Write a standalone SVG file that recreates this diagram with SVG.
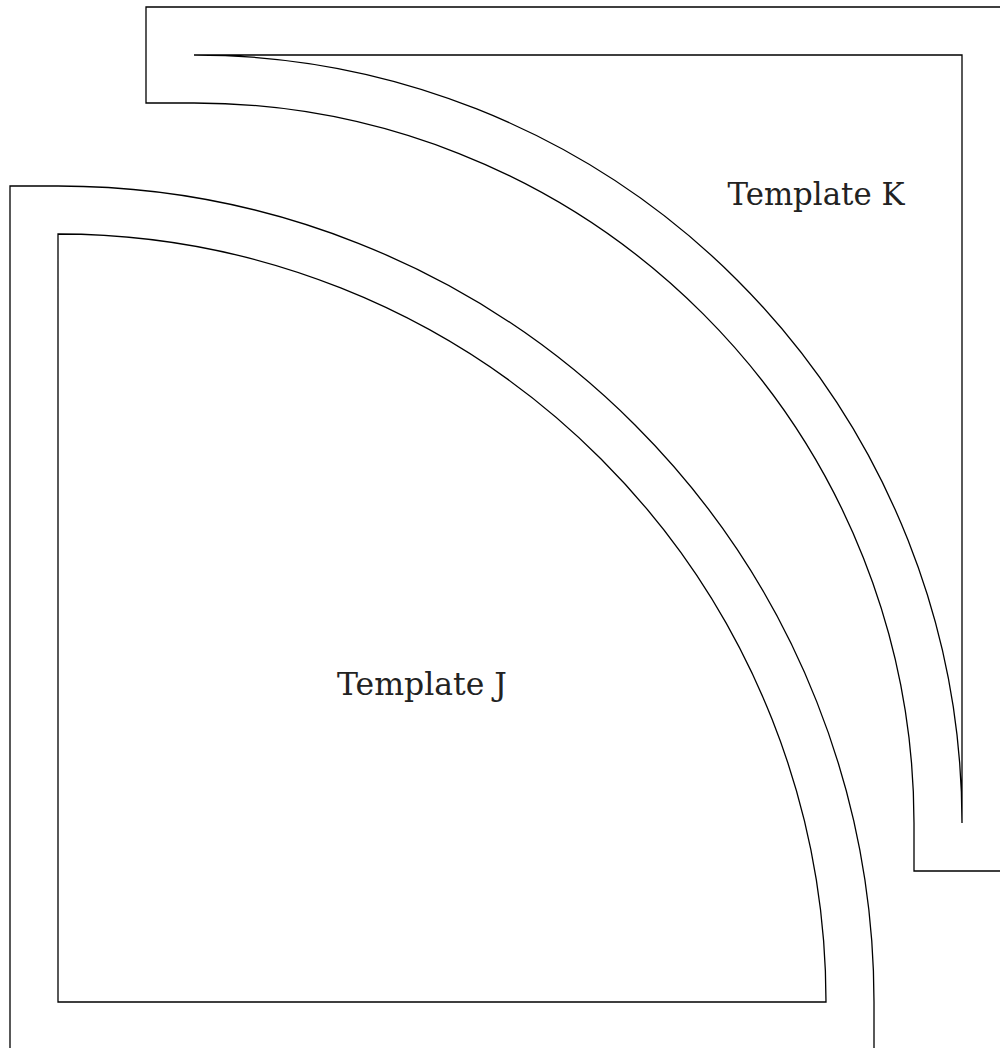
<svg xmlns="http://www.w3.org/2000/svg" width="1000" height="1048" viewBox="0 0 1000 1048">
<style>
.ln{fill:none;stroke:#000;stroke-width:1.3;stroke-linejoin:miter}
.lbl{font-family:"DejaVu Serif","Liberation Serif",serif;font-size:31px;fill:#222;text-anchor:middle}
</style>
<rect width="1000" height="1048" fill="#fff"/>
<g id="template-j">
<path class="ln" d="M10,1048 L10,186 L58,186 A816,816 0 0 1 874,1002 L874,1048"/>
<path class="ln" d="M58,234 A768,768 0 0 1 826,1002 L58,1002 Z"/>
<text class="lbl" x="422" y="695" textLength="170" lengthAdjust="spacingAndGlyphs">Template J</text>
</g>
<g id="template-k">
<path class="ln" d="M1000,7 L146,7 L146,103 L194,103 A720,720 0 0 1 914,823 L914,871 L1000,871"/>
<path class="ln" d="M194,55 A768,768 0 0 1 962,823 L962,55 Z"/>
<text class="lbl" x="816" y="205" textLength="177" lengthAdjust="spacingAndGlyphs">Template K</text>
</g>
<g id="connectors"/>
</svg>
